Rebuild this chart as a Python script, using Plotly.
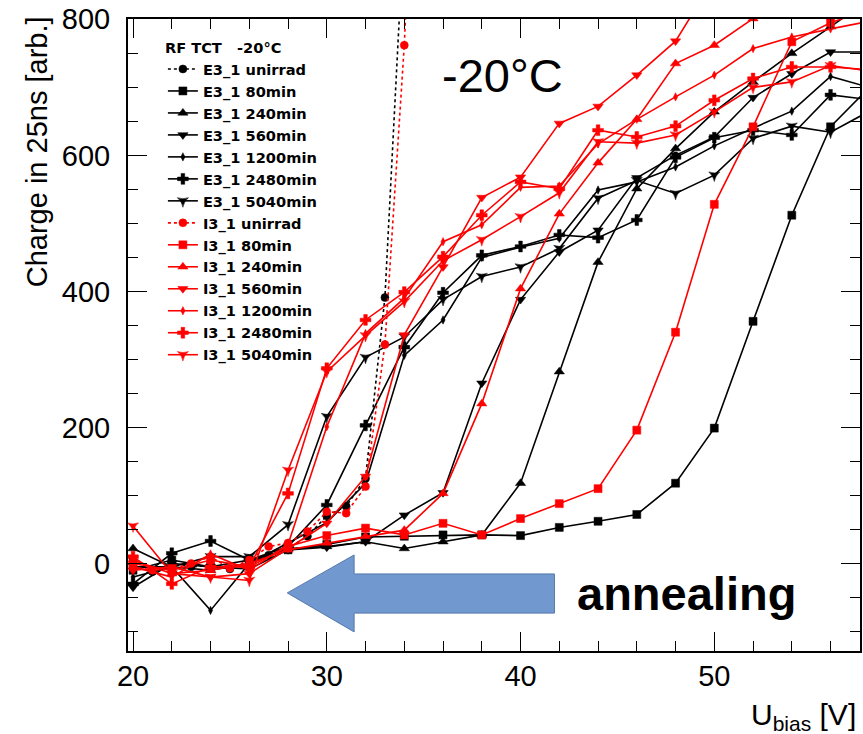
import plotly.graph_objects as go

# ---------------- data ----------------
V_UNIRRAD = [20, 21, 22, 23, 24, 25, 26, 27, 28, 29, 30, 31, 32, 33, 34, 35]
V_ANNEAL = [20, 22, 24, 26, 28, 30, 32, 34, 36, 38, 40, 42, 44, 46, 48, 50, 52, 54, 56, 58]

E3_unirrad = [5, -12, 0, -5, -3, -8, 3, 12, 22, 40, 70, 84, 125, 391, 950, 1500]
E3_80 = [-10, 5, -5, 5, 20, 28, 39, 40, 42, 42, 41, 53, 62, 72, 118, 199, 356, 512, 642, 700]
E3_240 = [22, -5, -10, 0, 22, 25, 32, 22, 32, 42, 118, 282, 443, 551, 610, 664, 708, 750, 789, 830]
E3_560 = [-35, 0, -5, -8, 20, 24, 32, 71, 104, 265, 388, 458, 490, 567, 600, 627, 685, 720, 752, 752]
E3_1200 = [-20, -5, -69, 0, 30, 60, 118, 306, 358, 450, 465, 478, 549, 561, 583, 614, 640, 665, 716, 700]
E3_2480 = [-30, 15, 33, 5, 25, 86, 203, 318, 398, 453, 466, 483, 479, 505, 597, 626, 637, 630, 689, 682]
E3_5040 = [-5, -5, 10, 10, 57, 216, 303, 333, 388, 422, 436, 463, 537, 563, 544, 571, 625, 643, 634, 665]

I3_unirrad = [-5, -10, -8, 0, 10, -7, 5, 25, 30, 47, 76, 74, 113, 322, 762, 1400]
I3_80 = [0, -10, 5, -5, 25, 41, 52, 42, 59, 42, 66, 88, 110, 196, 340, 528, 642, 767, 795, 815]
I3_240 = [5, -15, -10, 0, 20, 30, 40, 49, 103, 235, 404, 514, 589, 653, 735, 762, 801, 830, 850, 870]
I3_560 = [-10, -5, -20, -15, 22, 59, 128, 336, 436, 538, 568, 647, 672, 718, 768, 860, 900, 930, 950, 970]
I3_1200 = [-5, -20, 14, -10, 28, 201, 338, 390, 473, 498, 553, 555, 617, 653, 686, 718, 757, 774, 786, 797]
I3_2480 = [10, -30, -5, -5, 103, 287, 358, 399, 451, 512, 561, 551, 637, 627, 643, 681, 713, 730, 730, 726]
I3_5040 = [55, -15, -20, -25, 137, 282, 335, 385, 445, 476, 510, 545, 620, 618, 630, 664, 700, 708, 732, 724]

SERIES = [
    ("E3_1 unirrad", V_UNIRRAD, E3_unirrad),
    ("E3_1 80min", V_ANNEAL, E3_80),
    ("E3_1 240min", V_ANNEAL, E3_240),
    ("E3_1 560min", V_ANNEAL, E3_560),
    ("E3_1 1200min", V_ANNEAL, E3_1200),
    ("E3_1 2480min", V_ANNEAL, E3_2480),
    ("E3_1 5040min", V_ANNEAL, E3_5040),
    ("I3_1 unirrad", V_UNIRRAD, I3_unirrad),
    ("I3_1 80min", V_ANNEAL, I3_80),
    ("I3_1 240min", V_ANNEAL, I3_240),
    ("I3_1 560min", V_ANNEAL, I3_560),
    ("I3_1 1200min", V_ANNEAL, I3_1200),
    ("I3_1 2480min", V_ANNEAL, I3_2480),
    ("I3_1 5040min", V_ANNEAL, I3_5040),
]

# ---------------- styles ----------------
STYLE = {
    "unirrad": dict(symbol="circle", size=8, dash="dot"),
    "80min": dict(symbol="square", size=8, dash="solid"),
    "240min": dict(symbol="triangle-up", size=9, dash="solid"),
    "560min": dict(symbol="triangle-down", size=9, dash="solid"),
    "1200min": dict(symbol="diamond-tall", size=6, dash="solid"),
    "2480min": dict(symbol="cross", size=9, dash="solid"),
    "5040min": dict(symbol="star-triangle-down", size=8, dash="solid"),
}

W, H = 863, 734
ML, MR, MT, MB = 128, 1, 19, 83
PW, PH = W - ML - MR, H - MT - MB


def px(x):
    return (x - ML) / PW


def py(y):
    return 1 - (y - MT) / PH


fig = go.Figure()
for name, xs, ys in SERIES:
    key = name.split()[-1]
    st = STYLE[key]
    color = "#000000" if name.startswith("E3") else "#ff0000"
    fig.add_trace(go.Scatter(
        x=xs, y=ys, name=name, mode="lines+markers",
        line=dict(color=color, width=1.6, dash=st["dash"]),
        marker=dict(symbol=st["symbol"], size=st["size"], color=color,
                    line=dict(color=color, width=0.5)),
    ))

axis_common = dict(
    showline=True, linecolor="black", linewidth=2, mirror="ticks",
    ticks="inside", ticklen=19, tickwidth=1, tickcolor="black",
    showgrid=False, zeroline=False,
    tickfont=dict(family="Liberation Sans", size=29, color="black"),
)

fig.update_layout(
    width=W, height=H,
    margin=dict(l=ML, r=MR, t=MT, b=MB, pad=0),
    paper_bgcolor="white", plot_bgcolor="white",
    xaxis=dict(range=[19.74, 57.52], tick0=0, dtick=10,
               minor=dict(dtick=2, ticklen=10, ticks="inside", tickcolor="black", tickwidth=1),
               ticklabelstandoff=-2, **axis_common),
    yaxis=dict(range=[-128.7, 800.5], tick0=0, dtick=200,
               minor=dict(dtick=50, ticklen=10, ticks="inside", tickcolor="black", tickwidth=1),
               ticklabelstandoff=10, **axis_common),
    showlegend=True,
    legend=dict(
        x=px(163), xanchor="left", y=py(34), yanchor="top",
        bgcolor="rgba(0,0,0,0)", borderwidth=0,
        font=dict(family="DejaVu Sans", size=14.6, color="black", weight="bold"),
        title=dict(text="RF TCT   -20°C",
                   font=dict(family="DejaVu Sans", size=14.6, color="black", weight="bold")),
        itemwidth=30, tracegroupgap=0, traceorder="normal",
    ),
    shapes=[dict(
        type="path", xref="x", yref="y",
        path="M 41.75,-15.4 L 31.41,-15.4 L 31.41,12.5 L 27.96,-43.3 "
             "L 31.41,-100.6 L 31.41,-73.0 L 41.75,-73.0 Z",
        fillcolor="rgb(114,153,207)", line=dict(color="rgb(84,120,172)", width=1),
        layer="above",
    )],
    annotations=[
        dict(text="-20°C", x=px(441), y=py(75), xref="paper", yref="paper",
             xanchor="left", yanchor="middle", showarrow=False,
             font=dict(family="Liberation Sans", size=47, color="black")),
        dict(text="<b>annealing</b>", x=px(576), y=py(593), xref="paper", yref="paper",
             xanchor="left", yanchor="middle", showarrow=False,
             font=dict(family="Liberation Sans", size=47, color="black")),
        dict(text="Charge in 25ns [arb.]", x=px(37), y=py(152), xref="paper", yref="paper",
             xanchor="center", yanchor="middle", textangle=-90, showarrow=False,
             font=dict(family="Liberation Sans", size=29, color="black")),
        dict(text="U<sub>bias</sub> [V]", x=px(860), y=py(716), xref="paper", yref="paper",
             xanchor="right", yanchor="middle", showarrow=False,
             font=dict(family="Liberation Sans", size=30, color="black")),
    ],
)

fig.write_html("out.html")
